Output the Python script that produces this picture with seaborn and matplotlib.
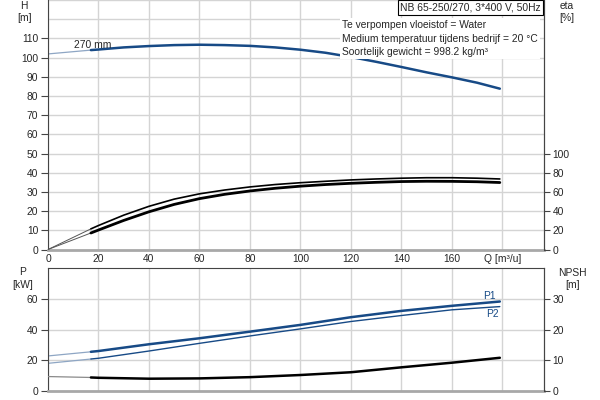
import numpy as np
import pandas as pd
import matplotlib
matplotlib.use("Agg")
import matplotlib.pyplot as plt
import seaborn as sns

# flow points (m3/u); 17 marks the start of the operating range
q_top = [0, 17, 20, 30, 40, 50, 60, 70, 80, 90, 100, 110, 120, 130, 140, 150, 160, 170, 179]
head = [101.9, 103.9, 104.2, 105.3, 106.0, 106.5, 106.7, 106.5, 106.1, 105.3, 104.1,
        102.5, 100.3, 97.8, 95.1, 92.3, 89.7, 86.9, 83.8]
eta_upper = [0, 21.5, 25.0, 35.8, 45.0, 52.5, 58.0, 62.0, 65.2, 67.7, 69.6,
             71.1, 72.5, 73.5, 74.3, 74.8, 74.8, 74.3, 73.5]
eta_lower = [0, 17.2, 20.3, 30.3, 39.3, 47.0, 53.0, 57.5, 61.0, 63.8, 66.0,
             67.7, 69.0, 70.0, 70.8, 71.1, 71.0, 70.6, 69.8]

q_bot = [0, 17, 20, 40, 60, 80, 100, 120, 140, 160, 179]
p1 = [22.8, 25.5, 26.0, 30.4, 34.3, 38.6, 43.0, 48.0, 52.1, 55.4, 58.2]
p2 = [18.0, 20.8, 21.3, 26.0, 31.0, 35.8, 40.4, 45.2, 49.1, 52.8, 54.9]
npsh = [4.7, 4.4, 4.3, 4.0, 4.1, 4.5, 5.2, 6.1, 7.7, 9.2, 10.8]

q_ticks = [0, 20, 40, 60, 80, 100, 120, 140, 160, 180]
q_ticklabels = ["0", "20", "40", "60", "80", "100", "120", "140", "160", "Q [m³/u]"]

title_box = "NB 65-250/270, 3*400 V, 50Hz"
info_lines = ["Te verpompen vloeistof = Water",
              "Medium temperatuur tijdens bedrijf = 20 °C",
              "Soortelijk gewicht = 998.2 kg/m³"]

sns.set_style("white")
plt.rcParams["font.family"] = ["Liberation Sans", "DejaVu Sans"]
FS = 7.4
plt.rcParams["font.size"] = FS

blue = "#174a86"
light_blue = "#8ea6c4"
gridc = "#d4d4d4"
axc = "#444444"

fig = plt.figure(figsize=(6, 4), dpi=100)
W, H = 600, 400


def px_axes(x0, y0, x1, y1):
    return fig.add_axes([x0 / W, 1 - y1 / H, (x1 - x0) / W, (y1 - y0) / H])


def curve(ax, qs, ys, color, lw, pre_color, pre_lw=0.9):
    # thin part before the operating range, then the main curve
    sns.lineplot(x=qs[:2], y=ys[:2], ax=ax, color=pre_color, lw=pre_lw, sort=False)
    sns.lineplot(x=qs[1:], y=ys[1:], ax=ax, color=color, lw=lw, sort=False)


def style(ax, ylim, yticks, hgrid):
    ax.set_xlim(0, 196.5)
    ax.set_ylim(*ylim)
    ax.set_xticks(q_ticks)
    ax.set_yticks(yticks)
    for g in q_ticks:
        ax.axvline(g, color=gridc, lw=1, zorder=0)
    for g in hgrid:
        ax.axhline(g, color=gridc, lw=1, zorder=0)
    ax.spines["left"].set_color(axc)
    ax.spines["right"].set_color(axc)
    ax.spines["bottom"].set_color("#a8a8a8")
    ax.spines["bottom"].set_linewidth(2)
    ax.tick_params(axis="y", direction="out", length=5, width=0.8, color=axc, pad=2, labelsize=FS)
    ax.tick_params(axis="x", length=0, pad=3, labelsize=FS)
    ax.set_xlabel("")
    ax.set_ylabel("")


def right_axis(ax, ylim, yticks):
    r = ax.twinx()
    r.set_ylim(*ylim)
    r.set_yticks(yticks)
    for s in ["top", "left", "bottom"]:
        r.spines[s].set_visible(False)
    r.spines["right"].set_color(axc)
    r.tick_params(axis="y", direction="out", length=4, width=0.8, color=axc, pad=2, labelsize=FS)
    return r


# top axes: head + efficiency
ax1 = px_axes(48, 0, 544, 249.5)
style(ax1, (0, 130), range(0, 111, 10), range(10, 131, 10))
ax1.spines["top"].set_visible(False)
ax1.set_xticklabels(q_ticklabels)
curve(ax1, q_top, head, blue, 1.8, light_blue)
ax1.text(10.3, 106.6, "270 mm", fontsize=FS, va="center", ha="left")

ax1r = right_axis(ax1, (0, 260), range(0, 101, 20))
curve(ax1r, q_top, eta_upper, "black", 1.2, "#555555", 0.7)
curve(ax1r, q_top, eta_lower, "black", 2.0, "#555555", 0.7)
ax1r.set_ylabel("")

# bottom axes: power + NPSH
ax2 = px_axes(48, 268, 544, 391)
style(ax2, (0, 80), range(0, 61, 20), [20, 40, 60])
ax2.spines["top"].set_color(axc)
ax2.set_xticklabels([])
curve(ax2, q_bot, p1, blue, 1.8, light_blue)
curve(ax2, q_bot, p2, blue, 1.0, light_blue)
ax2.text(172.5, 62, "P1", color=blue, fontsize=FS, ha="left", va="center")
ax2.text(173.5, 50.4, "P2", color=blue, fontsize=FS, ha="left", va="center")

ax2r = right_axis(ax2, (0, 40), range(0, 31, 10))
curve(ax2r, q_bot, npsh, "black", 1.8, "#8a8a8a")
ax2r.set_ylabel("")


# axis captions
def ftext(x, y, s):
    fig.text(x / W, 1 - y / H, s, ha="center", va="center", fontsize=FS)


ftext(24, 6, "H")
ftext(24, 18, "[m]")
ftext(567, 6, "eta")
ftext(567, 18, "[%]")
ftext(23, 272, "P")
ftext(23, 285, "[kW]")
ftext(572, 273, "NPSH")
ftext(572, 285, "[m]")

fig.text(540.5 / W, 1 - 7.5 / H, title_box, ha="right", va="center", fontsize=FS,
         bbox=dict(facecolor="white", edgecolor="black", lw=0.8, boxstyle="square,pad=0.22"))
fig.text(342 / W, 1 - 38.5 / H, "\n".join(info_lines), ha="left", va="center", fontsize=FS,
         linespacing=1.4,
         bbox=dict(facecolor="white", edgecolor="none", boxstyle="square,pad=0.2"))

fig.savefig("out.png", dpi=100)
